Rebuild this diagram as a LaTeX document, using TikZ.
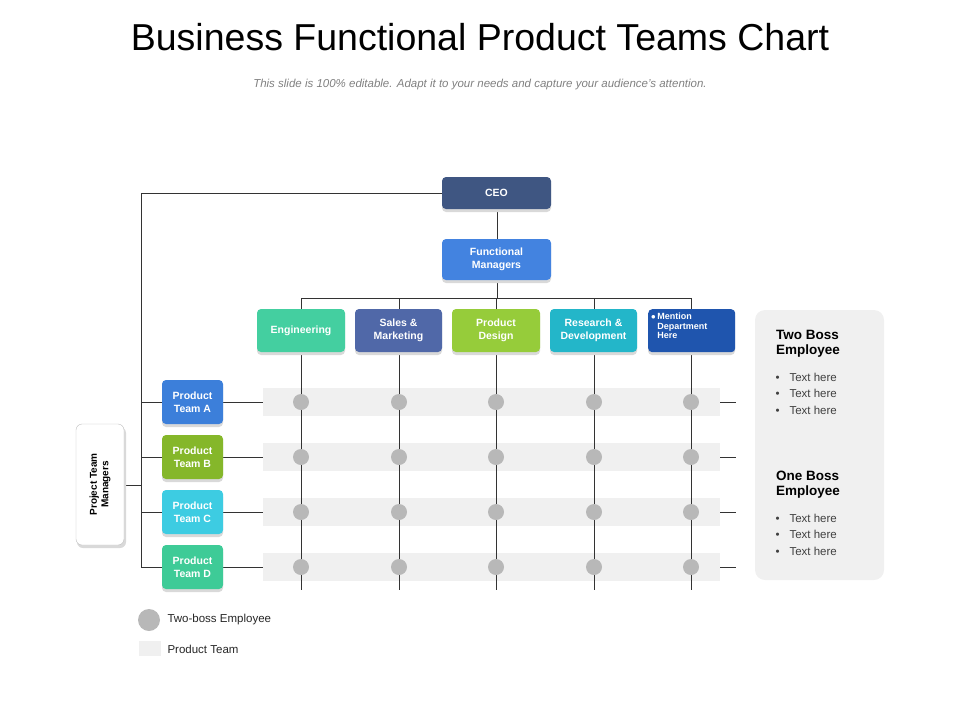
\documentclass[tikz,border=0pt]{standalone}
\usepackage{fontspec}
\setmainfont{Liberation Sans}
\begin{document}
\begin{tikzpicture}[x=1pt,y=-1pt,
 box/.style={rounded corners=4pt,text=white,font=\bfseries\fontsize{10.5}{13}\selectfont,align=center,inner sep=0pt},
 ln/.style={draw=black!80,line width=0.8pt},
 dot/.style={circle,fill=black!28,minimum size=16pt,inner sep=0pt},
 band/.style={fill=black!6},
 txt/.style={font=\fontsize{11.5}{13}\selectfont,text=black!75,anchor=west}]
\useasboundingbox (0,0) rectangle (960,720);
\definecolor{ceo}{HTML}{3F5682}\definecolor{fm}{HTML}{4383E0}
\definecolor{eng}{HTML}{44CFA0}\definecolor{sal}{HTML}{5068A8}
\definecolor{pd}{HTML}{96CC3A}\definecolor{rd}{HTML}{23B6C9}
\definecolor{md}{HTML}{1F55AE}\definecolor{ta}{HTML}{3C7FDA}
\definecolor{tb}{HTML}{85B72A}\definecolor{tc}{HTML}{3DCCE2}\definecolor{td}{HTML}{3ECB97}
\node (title) at (480,37) {\fontsize{37.5}{40}\selectfont Business Functional Product Teams Chart};
\node (sub) at (480,85) {\fontsize{11.5}{12}\selectfont\itshape\color{black!50}This slide is 100\% editable. Adapt it to your needs and capture your audience's attention.};
% bands
\foreach \y/\n in {402/a,457/b,512/c,567/d}{
 \fill[band] (263,\y-14) rectangle (720,\y+14);
}
% lines
\coordinate (t0) at (141,193); \coordinate (t1) at (141,568);
\draw[ln] (t0) -- (t1);
\foreach \x in {301,399,496,594,691}{\draw[ln] (\x,298) -- (\x,590);}
\draw[ln] (301,298) -- (691,298);
\draw[ln] (497,209) -- (497,298);
\foreach \y in {402,457,512,567}{\draw[ln] (141,\y) -- (263,\y); \draw[ln] (720,\y) -- (736,\y);}
\draw[ln] (124,485) -- (141,485);
\draw[ln] (t0) -- (442,193);
% dots
\foreach \y in {402,457,512,567}{\foreach \x in {301,399,496,594,691}{\node[dot] at (\x,\y) {};}}
% boxes with shadow
\newcommand{\bx}[6]{\fill[black!15,rounded corners=4pt] (#1,#2+3) rectangle (#3,#4+3);
 \node[box,fill=#5,minimum width=#3-#1,minimum height=#4-#2] at ({(#1+#3)/2},{(#2+#4)/2}) {#6};}
\bx{442}{177}{551}{209}{ceo}{CEO}
\bx{442}{239}{551}{280}{fm}{Functional\\Managers}
\bx{257}{309}{345}{352}{eng}{Engineering}
\bx{355}{309}{442}{352}{sal}{Sales \&\\Marketing}
\bx{452}{309}{540}{352}{pd}{Product\\Design}
\bx{550}{309}{637}{352}{rd}{Research \&\\Development}
\fill[black!15,rounded corners=4pt] (648,312) rectangle (735,355);
\node[box,fill=md,minimum width=87,minimum height=43,anchor=north west] (md) at (648,309) {};
\node[font=\bfseries\fontsize{9}{9.5}\selectfont,text=white,align=left,anchor=north west,inner sep=0pt] at (651,313) {$\bullet$\,Mention\\\hphantom{$\bullet$\,}Department\\\hphantom{$\bullet$\,}Here};
\bx{162}{380}{223}{424}{ta}{Product\\Team A}
\bx{162}{435}{223}{479}{tb}{Product\\Team B}
\bx{162}{490}{223}{534}{tc}{Product\\Team C}
\bx{162}{545}{223}{589}{td}{Product\\Team D}
% PTM
\fill[black!15,rounded corners=6pt] (77,427) rectangle (126,548);
\node[draw=black!25,fill=white,rounded corners=6pt,minimum width=48,minimum height=121,inner sep=0pt] (ptm) at (100,484.5) {};
\node[rotate=90,font=\bfseries\fontsize{10}{11.5}\selectfont,align=center] at (ptm) {Project Team\\Managers};
% right panel
\fill[black!6,rounded corners=10pt] (755,310) rectangle (884,580);
\node[font=\bfseries\fontsize{13.5}{15}\selectfont,align=left,anchor=north west,inner sep=0pt] at (776,330) {Two Boss\\Employee};
\node[font=\bfseries\fontsize{13.5}{15}\selectfont,align=left,anchor=north west,inner sep=0pt] at (776,471) {One Boss\\Employee};
\foreach \y in {377,393,410,518,534,551}{\node[txt] at (772,\y) {\textbullet\hspace{10pt}Text here};}
% legend
\node[circle,fill=black!28,minimum size=22pt,inner sep=0pt] (leg1) at (149,620) {};
\node[txt,text=black!85] at (164,620) {Two-boss Employee};
\fill[black!6] (139,641) rectangle (161,656);
\node[txt,text=black!85] at (164,649) {Product Team};
\end{tikzpicture}
\end{document}
